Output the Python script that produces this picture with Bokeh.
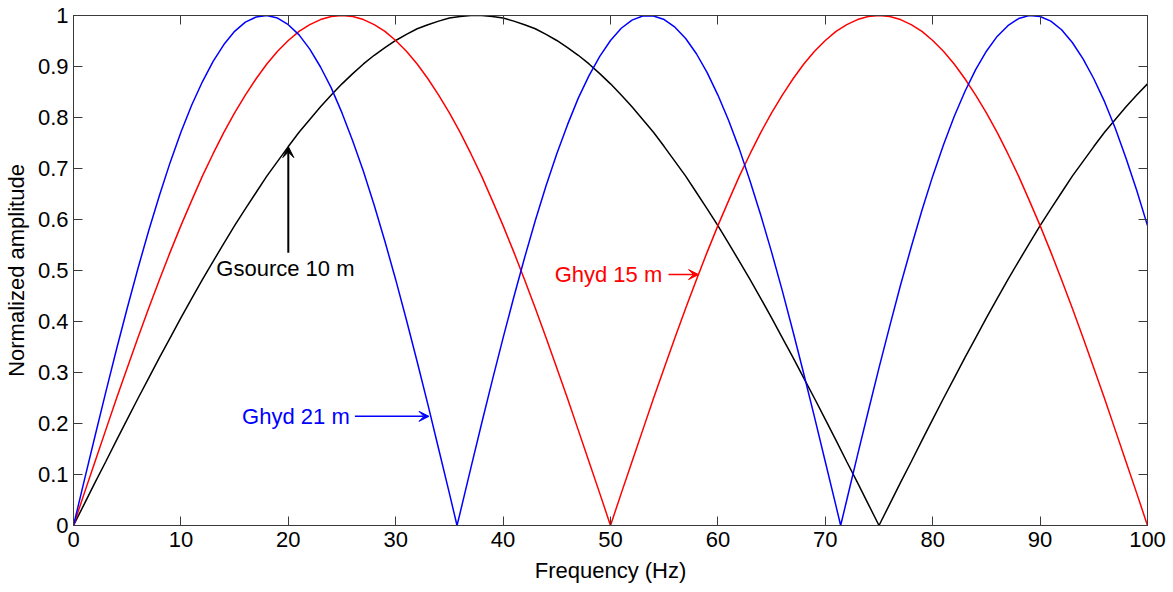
from bokeh.plotting import figure
from bokeh.models import (Label, Arrow, VeeHead, LinearAxis, FixedTicker,
                          NumeralTickFormatter, CustomJSTickFormatter, Range1d)
from bokeh.embed import file_html
from bokeh.resources import INLINE

# Ghost amplitude spectra, sampled every 1 Hz
freq_hz = list(range(0, 101))

gsource_10m = [
    0.000, 0.042, 0.084, 0.125, 0.167, 0.208, 0.249, 0.289, 0.329, 0.368,
    0.407, 0.445, 0.482, 0.518, 0.553, 0.588, 0.621, 0.653, 0.685, 0.714,
    0.743, 0.771, 0.796, 0.821, 0.844, 0.866, 0.886, 0.905, 0.922, 0.937,
    0.951, 0.963, 0.974, 0.982, 0.989, 0.995, 0.998, 1.000, 1.000, 0.998,
    0.995, 0.989, 0.982, 0.974, 0.963, 0.951, 0.937, 0.922, 0.905, 0.886,
    0.866, 0.844, 0.821, 0.796, 0.771, 0.743, 0.714, 0.685, 0.653, 0.621,
    0.588, 0.553, 0.518, 0.482, 0.445, 0.407, 0.368, 0.329, 0.289, 0.249,
    0.208, 0.167, 0.125, 0.084, 0.042, 0.000, 0.042, 0.084, 0.125, 0.167,
    0.208, 0.249, 0.289, 0.329, 0.368, 0.407, 0.445, 0.482, 0.518, 0.553,
    0.588, 0.621, 0.653, 0.685, 0.714, 0.743, 0.771, 0.796, 0.821, 0.844, 0.866,
]

ghyd_15m = [
    0.000, 0.063, 0.125, 0.187, 0.249, 0.309, 0.368, 0.426, 0.482, 0.536,
    0.588, 0.637, 0.685, 0.729, 0.771, 0.809, 0.844, 0.876, 0.905, 0.930,
    0.951, 0.969, 0.982, 0.992, 0.998, 1.000, 0.998, 0.992, 0.982, 0.969,
    0.951, 0.930, 0.905, 0.876, 0.844, 0.809, 0.771, 0.729, 0.685, 0.637,
    0.588, 0.536, 0.482, 0.426, 0.368, 0.309, 0.249, 0.187, 0.125, 0.063,
    0.000, 0.063, 0.125, 0.187, 0.249, 0.309, 0.368, 0.426, 0.482, 0.536,
    0.588, 0.637, 0.685, 0.729, 0.771, 0.809, 0.844, 0.876, 0.905, 0.930,
    0.951, 0.969, 0.982, 0.992, 0.998, 1.000, 0.998, 0.992, 0.982, 0.969,
    0.951, 0.930, 0.905, 0.876, 0.844, 0.809, 0.771, 0.729, 0.685, 0.637,
    0.588, 0.536, 0.482, 0.426, 0.368, 0.309, 0.249, 0.187, 0.125, 0.063, 0.000,
]

# the 21 m curve has its notches between whole frequencies
ghyd_21m_freq = (list(range(0, 36)) + [35.71] + list(range(36, 72))
                 + [71.43] + list(range(72, 101)))
ghyd_21m = [
    0.000, 0.088, 0.175, 0.261, 0.345, 0.426, 0.504, 0.578, 0.647, 0.712,
    0.771, 0.824, 0.870, 0.910, 0.943, 0.969, 0.987, 0.997, 1.000, 0.995,
    0.982, 0.962, 0.934, 0.899, 0.858, 0.809, 0.754, 0.694, 0.628, 0.557,
    0.482, 0.403, 0.321, 0.237, 0.150, 0.063,
    0.000,
    0.025, 0.113, 0.200, 0.285,
    0.368, 0.448, 0.525, 0.598, 0.666, 0.729, 0.786, 0.838, 0.882, 0.920,
    0.951, 0.975, 0.991, 0.999, 0.999, 0.992, 0.977, 0.955, 0.925, 0.888,
    0.844, 0.794, 0.738, 0.675, 0.608, 0.536, 0.460, 0.380, 0.297, 0.212,
    0.125, 0.038,
    0.000,
    0.050, 0.138, 0.224, 0.309, 0.391, 0.471, 0.546, 0.618,
    0.685, 0.746, 0.802, 0.851, 0.894, 0.930, 0.959, 0.980, 0.994, 1.000,
    0.998, 0.989, 0.972, 0.947, 0.915, 0.876, 0.831, 0.779, 0.720, 0.657, 0.588,
]

x_ticks = [0, 10, 20, 30, 40, 50, 60, 70, 80, 90, 100]
y_ticks = [0, 0.1, 0.2, 0.3, 0.4, 0.5, 0.6, 0.7, 0.8, 0.9, 1]

FONT = "Liberation Sans"
AXIS_COLOR = "#3a3a3a"
BLUE = "#0000ff"
RED = "#ff0000"

p = figure(width=1173, height=592,
           x_range=Range1d(0, 100), y_range=Range1d(0, 1),
           output_backend="svg", toolbar_location=None,
           min_border_left=72, min_border_right=26,
           min_border_top=15, min_border_bottom=67,
           x_axis_label="Frequency (Hz)", y_axis_label="Normalized amplitude")
p.background_fill_color = "white"
p.border_fill_color = "white"
p.outline_line_color = AXIS_COLOR
p.xgrid.grid_line_color = None
p.ygrid.grid_line_color = None


def style_axis(ax, ticks):
    ax.ticker = FixedTicker(ticks=ticks)
    ax.axis_line_color = AXIS_COLOR
    ax.major_tick_line_color = AXIS_COLOR
    ax.major_tick_in = 9
    ax.major_tick_out = 0
    ax.minor_tick_line_color = None
    ax.major_label_text_font = FONT
    ax.major_label_text_font_size = "22px"
    ax.major_label_text_color = "black"
    ax.axis_label_text_font = FONT
    ax.axis_label_text_font_size = "22px"
    ax.axis_label_text_font_style = "normal"
    ax.axis_label_text_color = "black"


style_axis(p.xaxis[0], x_ticks)
style_axis(p.yaxis[0], y_ticks)
p.xaxis[0].major_label_standoff = 6
p.xaxis[0].axis_label_standoff = 8
p.yaxis[0].major_label_standoff = 5
p.yaxis[0].axis_label_standoff = 6
p.yaxis[0].formatter = NumeralTickFormatter(format="0.[0]")

# tick marks on the top and right edges of the box, without labels
blank = CustomJSTickFormatter(code="return ''")
top_axis = LinearAxis(formatter=blank)
style_axis(top_axis, x_ticks)
top_axis.major_label_standoff = 0
top_axis.major_label_text_font_size = "1px"
p.add_layout(top_axis, "above")
right_axis = LinearAxis(formatter=blank)
style_axis(right_axis, y_ticks)
right_axis.major_label_standoff = 0
right_axis.major_label_text_font_size = "1px"
p.add_layout(right_axis, "right")

p.line(freq_hz, gsource_10m, line_color="black", line_width=1.5)
p.line(freq_hz, ghyd_15m, line_color=RED, line_width=1.5)
p.line(ghyd_21m_freq, ghyd_21m, line_color=BLUE, line_width=1.5)

# annotations with arrows pointing at each curve
p.add_layout(Label(x=13.3, y=0.504, text="Gsource 10 m", text_font=FONT,
                   text_font_size="22px", text_color="black",
                   text_baseline="middle", text_align="left"))
p.add_layout(Arrow(end=VeeHead(size=11, fill_color="black", line_color="black"),
                   x_start=20, y_start=0.535, x_end=20, y_end=gsource_10m[20],
                   line_color="black", line_width=2))

p.add_layout(Label(x=44.8, y=0.492, text="Ghyd 15 m", text_font=FONT,
                   text_font_size="22px", text_color=RED,
                   text_baseline="middle", text_align="left"))
p.add_layout(Arrow(end=VeeHead(size=10, fill_color=RED, line_color=RED),
                   x_start=55.4, y_start=0.492, x_end=58.2, y_end=0.492,
                   line_color=RED, line_width=1.5))

p.add_layout(Label(x=15.7, y=0.214, text="Ghyd 21 m", text_font=FONT,
                   text_font_size="22px", text_color=BLUE,
                   text_baseline="middle", text_align="left"))
p.add_layout(Arrow(end=VeeHead(size=10, fill_color=BLUE, line_color=BLUE),
                   x_start=26.2, y_start=0.214, x_end=33.1, y_end=0.214,
                   line_color=BLUE, line_width=1.5))

open("out.html", "w").write(file_html(p, INLINE))
